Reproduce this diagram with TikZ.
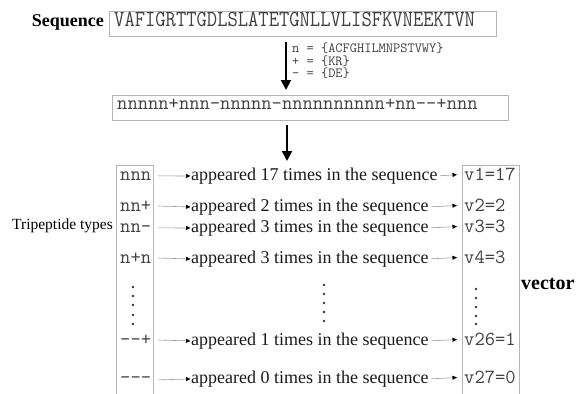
\documentclass[tikz,border=0pt]{standalone}
\usepackage{fontspec}
\setmainfont{Liberation Serif}
\usetikzlibrary{arrows.meta,calc}
\definecolor{boxgray}{HTML}{B4B4B4}
\definecolor{monogray}{HTML}{404040}
\begin{document}
\begin{tikzpicture}[x=1pt,y=-1pt,
  boxline/.style={draw=boxgray, line width=0.8pt},
  bigarrow/.style={line width=2pt, -{Triangle[length=10pt,width=10pt]}},
  smallarrow/.style={draw=gray!80, line width=0.6pt, -{Triangle[length=4.5pt,width=4pt,color=black]}},
  mono/.style={font=\ttfamily\fontsize{20}{22}\selectfont, text=monogray, inner sep=0pt},
  serif/.style={font=\fontsize{18}{21}\selectfont, text=black!90, inner sep=0pt},
  dotmark/.style={fill=black!80}
]
\useasboundingbox (0,0) rectangle (579,394);

% top sequence
\node[font=\bfseries\fontsize{18}{21}\selectfont, anchor=mid east, inner sep=0pt] (seqlbl) at (104,24) {Sequence};
\node[boxline, anchor=north west, minimum width=387pt, minimum height=25pt, inner sep=0pt] (seqbox) at (109,11) {};
\node[font=\ttfamily\fontsize{23}{25}\selectfont, text=monogray, anchor=mid west, inner sep=0pt] (seqtxt) at (114,24) {\scalebox{0.87}[1]{VAFIGRTTGDLSLATETGNLLVLISFKVNEEKTVN}};

% arrow 1 and set definitions
\coordinate (a1s) at (286,42);
\coordinate (a1e) at (286,90);
\draw[bigarrow] (a1s) -- (a1e);
\node[font=\ttfamily\fontsize{14}{12.5}\selectfont, text=monogray, anchor=north west, align=left, inner sep=0pt] (sets) at (292,43)
  {n = \{ACFGHILMNPSTVWY\}\\+ = \{KR\}\\- = \{DE\}};

% reduced sequence
\node[boxline, anchor=north west, minimum width=396pt, minimum height=25pt, inner sep=0pt] (redbox) at (112,95) {};
\node[mono, anchor=mid west] (redtxt) at (117,107.5) {nnnnn+nnn-nnnnn-nnnnnnnnnn+nn--+nnn};

\coordinate (a2s) at (287,125);
\coordinate (a2e) at (287,161);
\draw[bigarrow] (a2s) -- (a2e);

% columns
\draw[boxline] (116,396) -- (116,165) -- (153,165) -- (153,396);
\draw[boxline] (462,396) -- (462,165) -- (519,165) -- (519,396);

\node[font=\fontsize{15.5}{18}\selectfont, anchor=mid east, inner sep=0pt] (tri) at (113,227) {Tripeptide types};
\node[font=\bfseries\fontsize{20}{22}\selectfont, anchor=mid west, inner sep=0pt] (vec) at (521,287) {vector};

\coordinate (lx) at (158,0);
\foreach \ii/\tp/\cnt/\vv/\yy in {1/nnn/17/v1=17/178, 2/nn+/2/v2=2/209, 3/nn-/3/v3=3/230, 4/n+n/3/v4=3/261, 5/--+/1/v26=1/343, 6/---/0/v27=0/381}{
  \node[mono, anchor=mid west] (t\ii) at (120,\yy) {\tp};
  \node[serif, anchor=mid west] (a\ii) at (191,\yy) {appeared \cnt{} times in the sequence};
  \node[mono, anchor=mid west] (v\ii) at (464,\yy) {\vv};
  \draw[smallarrow, shorten >=0.5pt] (t\ii.east -| lx) -- (a\ii.west);
  \draw[smallarrow, shorten <=2pt, shorten >=7pt] (a\ii.east) -- (v\ii.west);
}

% vertical ellipses
\foreach \yy in {287,296,305,315,324} \fill[dotmark] (133,\yy) circle (1.3pt);
\foreach \yy in {285,294,303,312,321} \fill[dotmark] (324,\yy) circle (1.3pt);
\foreach \yy in {289,298,307,316,324} \fill[dotmark] (476,\yy) circle (1.3pt);
\end{tikzpicture}
\end{document}
